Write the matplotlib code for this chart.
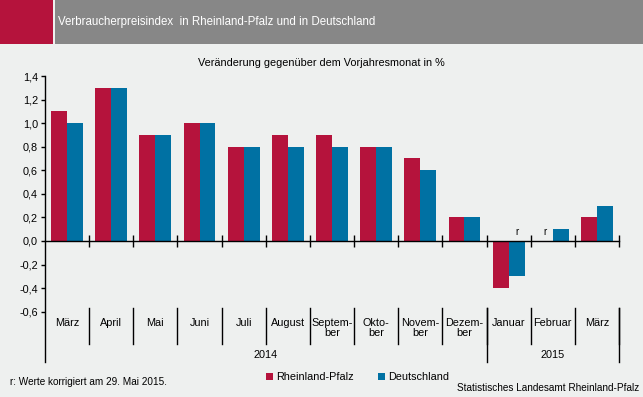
import matplotlib
matplotlib.use("Agg")
import matplotlib.pyplot as plt
import numpy as np
from matplotlib.patches import Rectangle, Patch

plt.rcParams['font.family'] = ['Liberation Sans', 'DejaVu Sans']

# data
months = ["März", "April", "Mai", "Juni", "Juli", "August", "Septem-\nber",
          "Okto-\nber", "Novem-\nber", "Dezem-\nber", "Januar", "Februar", "März"]
years = ["2014", "2015"]
year_counts = [10, 3]
rlp = [1.1, 1.3, 0.9, 1.0, 0.8, 0.9, 0.9, 0.8, 0.7, 0.2, -0.4, 0.0, 0.2]
de = [1.0, 1.3, 0.9, 1.0, 0.8, 0.8, 0.8, 0.8, 0.6, 0.2, -0.3, 0.1, 0.3]
rlp_rev = [False] * 11 + [True, False]
de_rev = [False] * 10 + [True, False, False]
yticks = [-0.6, -0.4, -0.2, 0.0, 0.2, 0.4, 0.6, 0.8, 1.0, 1.2, 1.4]

RED = "#b5133c"
BLUE = "#0071a3"
BG = "#eef0ef"
W, H = 643, 397

fig = plt.figure(figsize=(W / 100, H / 100), dpi=100, facecolor=BG)

# header bar
fig.patches.append(Rectangle((0, 1 - 44 / H), 53 / W, 44 / H, transform=fig.transFigure,
                             facecolor=RED, edgecolor="none"))
fig.patches.append(Rectangle((55 / W, 1 - 44 / H), 1 - 55 / W, 44 / H, transform=fig.transFigure,
                             facecolor="#878787", edgecolor="none"))
fig.text(58 / W, 1 - 22 / H, "Verbraucherpreisindex  in Rheinland-Pfalz und in Deutschland",
         color="white", fontsize=8.3, va="center", ha="left")
fig.text(321 / W, 1 - 63 / H, "Veränderung gegenüber dem Vorjahresmonat in %",
         fontsize=7.8, ha="center", va="center")

ax = fig.add_axes([45 / W, (H - 362) / H, (619 - 45) / W, (362 - 76) / H])
ax.set_facecolor(BG)

x = np.arange(len(months))
bw = 0.36
ax.bar(x - bw / 2, rlp, bw, color=RED, label="Rheinland-Pfalz")
ax.bar(x + bw / 2, de, bw, color=BLUE, label="Deutschland")

for i in range(len(months)):
    if rlp_rev[i]:
        ax.text(x[i] - bw / 2, max(rlp[i], 0) + 0.03, "r", ha="center", va="bottom", fontsize=7)
    if de_rev[i]:
        ax.text(x[i] + bw / 2, max(de[i], 0) + 0.03, "r", ha="center", va="bottom", fontsize=7)

ax.set_xlim(-0.5, len(months) - 0.5)
ax.set_ylim(-1.027, 1.4)
ax.set_yticks(yticks)
ax.set_yticklabels([("%.1f" % v).replace(".", ",") for v in yticks], fontsize=7.8)
ax.tick_params(axis="y", direction="out", length=3, width=1, pad=2)

for s in ["top", "right"]:
    ax.spines[s].set_visible(False)
ax.spines["left"].set_linewidth(1)
ax.spines["bottom"].set_position(("data", 0))
ax.spines["bottom"].set_linewidth(1)
ax.set_xticks(np.arange(len(months)) + 0.5)
ax.set_xticklabels([])
ax.tick_params(axis="x", direction="inout", length=8, width=1)

tr = ax.get_xaxis_transform()
for i, m in enumerate(months):
    ax.text(x[i], 0.155, m, transform=tr, ha="center", va="top", fontsize=7.8, linespacing=1.1)
for b in np.arange(len(months)) + 0.5:
    ax.plot([b, b], [0.063, 0.189], transform=tr, color="black", lw=1, clip_on=False)

start = -0.5
for yr, n in zip(years, year_counts):
    end = start + n
    ax.plot([end, end], [0, 0.189], transform=tr, color="black", lw=1, clip_on=False)
    ax.text((start + end) / 2, 0.026, yr, transform=tr, ha="center", va="center", fontsize=7.8)
    start = end

handles = [Patch(facecolor=RED, label="Rheinland-Pfalz"), Patch(facecolor=BLUE, label="Deutschland")]
fig.legend(handles=handles, loc="center left", bbox_to_anchor=(266 / W, 1 - 377 / H),
           ncol=2, frameon=False, fontsize=7.8, handlelength=0.6, handleheight=0.6,
           handletextpad=0.3, columnspacing=2.3, borderpad=0, borderaxespad=0)

fig.text(10 / W, 1 - 382 / H, "r: Werte korrigiert am 29. Mai 2015.", fontsize=7.2,
         ha="left", va="center")
fig.text(639 / W, 1 - 388 / H, "Statistisches Landesamt Rheinland-Pfalz", fontsize=7.2,
         ha="right", va="center")

fig.savefig("out.png", dpi=100, facecolor=BG)
